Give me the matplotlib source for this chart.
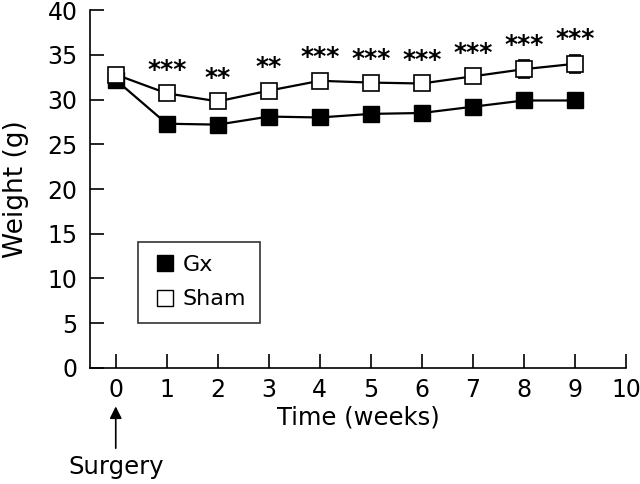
import matplotlib
matplotlib.use("Agg")
import matplotlib.pyplot as plt

plt.rcParams.update({'font.size': 14, 'font.family': 'DejaVu Sans'})

weeks = [0, 1, 2, 3, 4, 5, 6, 7, 8, 9]
gx_weight = [32.2, 27.3, 27.2, 28.1, 28.0, 28.4, 28.5, 29.2, 29.9, 29.9]
gx_err = [0.5, 0.4, 0.4, 0.4, 0.4, 0.4, 0.4, 0.4, 0.4, 0.4]
sham_weight = [32.8, 30.7, 29.8, 31.0, 32.1, 31.9, 31.8, 32.6, 33.4, 34.0]
sham_err = [0.4, 0.5, 0.5, 0.5, 0.5, 0.5, 0.5, 0.7, 1.0, 1.0]
stars = ["", "***", "**", "**", "***", "***", "***", "***", "***", "***"]


def main():
	fig = plt.figure(figsize=(6.4, 4.84), dpi=100)
	ax = fig.add_axes([0.141, 0.24, 0.837, 0.739])

	ax.errorbar(weeks, gx_weight, yerr=gx_err, color="black", lw=1.6,
				marker="s", ms=11.5, mfc="black", mec="black", capsize=4,
				elinewidth=1.2, label="Gx", zorder=3)
	ax.errorbar(weeks, sham_weight, yerr=sham_err, color="black", lw=1.6,
				marker="s", ms=11.5, mfc="white", mec="black", mew=1.2,
				capsize=4, elinewidth=1.2, label="Sham", zorder=4)

	for x, y, e, s in zip(weeks, sham_weight, sham_err, stars):
		if s:
			ax.text(x, y + max(e, 0.9) + 0.4, s, ha="center", va="bottom",
					fontsize=18, fontweight="bold")

	ax.set_xlim(-0.5, 10)
	ax.set_ylim(0, 40)
	ax.set_xticks(range(0, 11))
	ax.set_yticks(range(0, 41, 5))
	ax.spines["top"].set_visible(False)
	ax.spines["right"].set_visible(False)
	ax.spines["left"].set_linewidth(1.2)
	ax.spines["bottom"].set_linewidth(1.2)
	ax.tick_params(direction="in", length=10, width=1.2, labelsize=17)
	ax.tick_params(axis="x", pad=7)
	ax.tick_params(axis="y", pad=9)
	ax.set_xlabel("Time (weeks)", fontsize=17.5, labelpad=3)
	ax.set_ylabel("Weight (g)", fontsize=19, labelpad=13)

	h_gx = plt.Line2D([], [], ls="none", marker="s", ms=11, mfc="black", mec="black")
	h_sham = plt.Line2D([], [], ls="none", marker="s", ms=11, mfc="white", mec="black")
	leg = ax.legend([h_gx, h_sham], ["Gx", "Sham"], loc="lower left",
					bbox_to_anchor=(0.0896, 0.126), borderaxespad=0,
					frameon=True, fancybox=False, edgecolor="black",
					fontsize=16, handletextpad=0.2, borderpad=0.6,
					labelspacing=0.65, handlelength=1.2)
	leg.get_frame().set_linewidth(1.2)

	ax.annotate("", xy=(0, -4.0), xytext=(0, -9.3), xycoords="data",
				arrowprops=dict(arrowstyle="-|>", color="black", lw=1.2,
								mutation_scale=18), annotation_clip=False)
	ax.text(0, -9.8, "Surgery", ha="center", va="top", fontsize=17.5,
			clip_on=False)

	fig.savefig("out.png", dpi=100)


if __name__ == '__main__':
	main()
